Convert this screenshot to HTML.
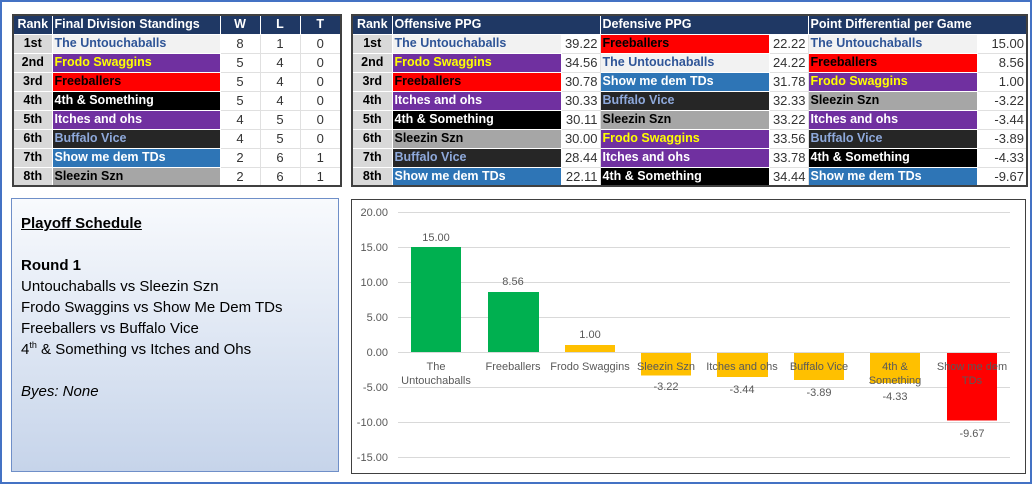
<!DOCTYPE html>
<html><head><meta charset="utf-8"><style>
*{margin:0;padding:0;box-sizing:border-box}
body{width:1034px;height:485px;background:#fff;position:relative;overflow:hidden;font-family:"Liberation Sans",sans-serif}
.frame{position:absolute;left:0;top:0;width:1032px;height:484px;border:2px solid #4472C4}
table{position:absolute;border-collapse:collapse;table-layout:fixed;font-size:12.5px;font-weight:bold;border:2px solid #404040}
td{height:19px;padding:0 2px;white-space:nowrap;overflow:hidden;border:1px solid #fff;line-height:17px}
tr.h td{background:#1F3864;color:#fff}
td.r{background:#D9D9D9;color:#000;text-align:center}
td.n{text-align:center;font-weight:normal;background:#fff;color:#333;border-color:#e0e0e0;font-size:13px}
td.v{text-align:right;font-weight:normal;background:#fff;color:#333;border-color:#e0e0e0;font-size:13px}
.U{background:#F2F2F2;color:#2F5597}
.F{background:#7030A0;color:#FFFF00}
.R{background:#FF0000;color:#000}
.S{background:#000;color:#fff}
.I{background:#7030A0;color:#fff}
.B{background:#262626;color:#8EA9DB}
.T{background:#2E75B6;color:#fff}
.Z{background:#A6A6A6;color:#000}
.box{position:absolute;left:11px;top:198px;width:328px;height:274px;border:1.5px solid #6F8FC8;background:linear-gradient(#F8FAFD,#C6D4EA);padding:14px 0 0 9px;font-size:15px;line-height:21px;color:#000}
.box sup{font-size:9px;line-height:0;vertical-align:6px}
.chart{position:absolute;left:351px;top:199px;width:675px;height:275px;border:1.5px solid #404040;background:#fff}
</style></head><body>
<div class="frame"></div>
<table style="left:12px;top:14px;width:328px">
<colgroup><col style="width:39px"><col style="width:168px"><col style="width:40px"><col style="width:40px"><col style="width:41px"></colgroup>
<tr class="h"><td style="text-align:center">Rank</td><td>Final Division Standings</td><td style="text-align:center">W</td><td style="text-align:center">L</td><td style="text-align:center">T</td></tr>
<tr><td class="r">1st</td><td class="U">The Untouchaballs</td><td class="n">8</td><td class="n">1</td><td class="n">0</td></tr>
<tr><td class="r">2nd</td><td class="F">Frodo Swaggins</td><td class="n">5</td><td class="n">4</td><td class="n">0</td></tr>
<tr><td class="r">3rd</td><td class="R">Freeballers</td><td class="n">5</td><td class="n">4</td><td class="n">0</td></tr>
<tr><td class="r">4th</td><td class="S">4th &amp; Something</td><td class="n">5</td><td class="n">4</td><td class="n">0</td></tr>
<tr><td class="r">5th</td><td class="I">Itches and ohs</td><td class="n">4</td><td class="n">5</td><td class="n">0</td></tr>
<tr><td class="r">6th</td><td class="B">Buffalo Vice</td><td class="n">4</td><td class="n">5</td><td class="n">0</td></tr>
<tr><td class="r">7th</td><td class="T">Show me dem TDs</td><td class="n">2</td><td class="n">6</td><td class="n">1</td></tr>
<tr><td class="r">8th</td><td class="Z">Sleezin Szn</td><td class="n">2</td><td class="n">6</td><td class="n">1</td></tr>
</table>
<table style="left:351px;top:14px;width:675px">
<colgroup><col style="width:40px"><col style="width:169px"><col style="width:39px"><col style="width:169px"><col style="width:39px"><col style="width:169px"><col style="width:50px"></colgroup>
<tr class="h"><td style="text-align:center">Rank</td><td colspan="2">Offensive PPG</td><td colspan="2">Defensive PPG</td><td colspan="2">Point Differential per Game</td></tr>
<tr><td class="r">1st</td><td class="U">The Untouchaballs</td><td class="v">39.22</td><td class="R">Freeballers</td><td class="v">22.22</td><td class="U">The Untouchaballs</td><td class="v">15.00</td></tr>
<tr><td class="r">2nd</td><td class="F">Frodo Swaggins</td><td class="v">34.56</td><td class="U">The Untouchaballs</td><td class="v">24.22</td><td class="R">Freeballers</td><td class="v">8.56</td></tr>
<tr><td class="r">3rd</td><td class="R">Freeballers</td><td class="v">30.78</td><td class="T">Show me dem TDs</td><td class="v">31.78</td><td class="F">Frodo Swaggins</td><td class="v">1.00</td></tr>
<tr><td class="r">4th</td><td class="I">Itches and ohs</td><td class="v">30.33</td><td class="B">Buffalo Vice</td><td class="v">32.33</td><td class="Z">Sleezin Szn</td><td class="v">-3.22</td></tr>
<tr><td class="r">5th</td><td class="S">4th &amp; Something</td><td class="v">30.11</td><td class="Z">Sleezin Szn</td><td class="v">33.22</td><td class="I">Itches and ohs</td><td class="v">-3.44</td></tr>
<tr><td class="r">6th</td><td class="Z">Sleezin Szn</td><td class="v">30.00</td><td class="F">Frodo Swaggins</td><td class="v">33.56</td><td class="B">Buffalo Vice</td><td class="v">-3.89</td></tr>
<tr><td class="r">7th</td><td class="B">Buffalo Vice</td><td class="v">28.44</td><td class="I">Itches and ohs</td><td class="v">33.78</td><td class="S">4th &amp; Something</td><td class="v">-4.33</td></tr>
<tr><td class="r">8th</td><td class="T">Show me dem TDs</td><td class="v">22.11</td><td class="S">4th &amp; Something</td><td class="v">34.44</td><td class="T">Show me dem TDs</td><td class="v">-9.67</td></tr>
</table>
<div class="box">
<div style="font-weight:bold;text-decoration:underline">Playoff Schedule</div>
<div>&nbsp;</div>
<div style="font-weight:bold">Round 1</div>
<div>Untouchaballs vs Sleezin Szn</div>
<div>Frodo Swaggins vs Show Me Dem TDs</div>
<div>Freeballers vs Buffalo Vice</div>
<div>4<sup>th</sup> &amp; Something vs Itches and Ohs</div>
<div>&nbsp;</div>
<div style="font-style:italic">Byes: None</div>
</div>
<div class="chart"></div>
<svg style="position:absolute;left:0;top:0" width="1034" height="485" font-family="Liberation Sans, sans-serif" font-size="11" fill="#595959">
<g stroke="#D9D9D9" stroke-width="1">
<line x1="398" x2="1010" y1="212.5" y2="212.5"/><line x1="398" x2="1010" y1="247.5" y2="247.5"/>
<line x1="398" x2="1010" y1="282.5" y2="282.5"/><line x1="398" x2="1010" y1="317.5" y2="317.5"/>
<line x1="398" x2="1010" y1="352.5" y2="352.5"/><line x1="398" x2="1010" y1="387.5" y2="387.5"/>
<line x1="398" x2="1010" y1="422.5" y2="422.5"/><line x1="398" x2="1010" y1="457.5" y2="457.5"/>
</g>
<g text-anchor="end">
<text x="388" y="216">20.00</text><text x="388" y="251">15.00</text><text x="388" y="286">10.00</text><text x="388" y="321">5.00</text>
<text x="388" y="356">0.00</text><text x="388" y="391">-5.00</text><text x="388" y="426">-10.00</text><text x="388" y="461">-15.00</text>
</g>
<rect x="411" y="247" width="50" height="105" fill="#00B050"/>
<rect x="488" y="292" width="51" height="60" fill="#00B050"/>
<rect x="565" y="345" width="50" height="7" fill="#FFC000"/>
<rect x="641" y="353" width="50" height="22.5" fill="#FFC000"/>
<rect x="717" y="353" width="51" height="24" fill="#FFC000"/>
<rect x="794" y="353" width="50" height="27" fill="#FFC000"/>
<rect x="870" y="353" width="50" height="30" fill="#FFC000"/>
<rect x="947" y="353" width="50" height="67.5" fill="#FF0000"/>
<g text-anchor="middle">
<text x="436" y="370">The</text><text x="436" y="384">Untouchaballs</text>
<text x="513" y="370">Freeballers</text><text x="590" y="370">Frodo Swaggins</text>
<text x="666" y="370">Sleezin Szn</text><text x="742" y="370">Itches and ohs</text>
<text x="819" y="370">Buffalo Vice</text><text x="895" y="370">4th &amp;</text><text x="895" y="384">Something</text>
<text x="972" y="370">Show me dem</text><text x="972" y="384">TDs</text>
<text x="436" y="241">15.00</text><text x="513" y="285">8.56</text><text x="590" y="338">1.00</text>
<text x="666" y="390">-3.22</text><text x="742" y="393">-3.44</text><text x="819" y="396">-3.89</text>
<text x="895" y="400">-4.33</text><text x="972" y="437">-9.67</text>
</g>
</svg>
</body></html>
